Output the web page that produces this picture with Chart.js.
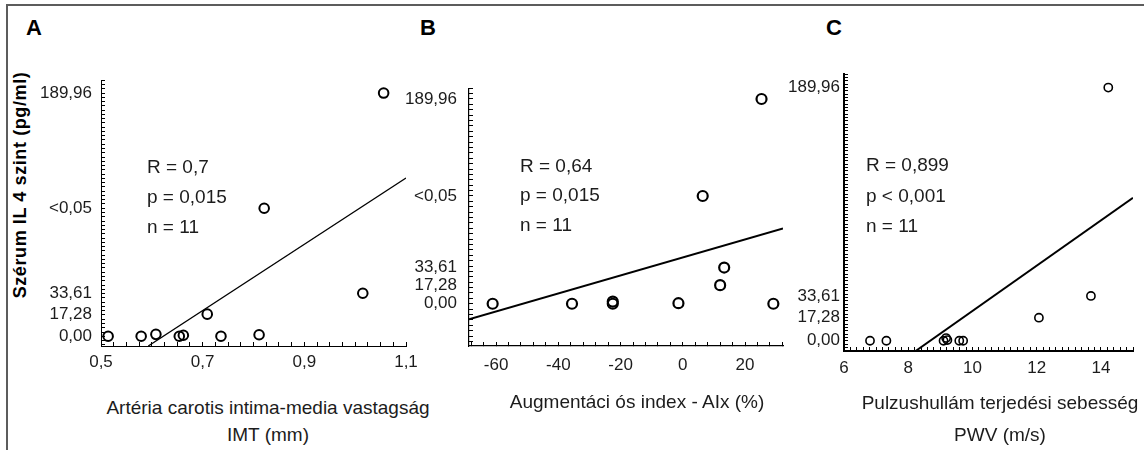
<!DOCTYPE html>
<html>
<head>
<meta charset="utf-8">
<script src="https://cdn.jsdelivr.net/npm/chart.js@4.4.1/dist/chart.umd.min.js"></script>
<style>
  html, body { margin: 0; padding: 0; background: #fff; }
  body { width: 1144px; height: 450px; position: relative; overflow: hidden;
         font-family: "Liberation Sans", Arial, sans-serif; color: #1c1c1c; }
  .frame { position: absolute; left: 6px; top: 4px; right: -4px; bottom: -4px;
           border-top: 2px solid #5c5c5c; border-left: 2px solid #5c5c5c; }
  canvas { position: absolute; }
  .txt { position: absolute; white-space: nowrap; }
  .letter { font-weight: bold; font-size: 22px; transform: translate(-50%, -50%); color: #000; }
  .stat { font-size: 19px; transform: translateY(-50%); }
  .xtitle { font-size: 19px; transform: translate(-50%, -50%); }
  .ytitle { font-weight: bold; font-size: 18px; letter-spacing: 0.6px; color: #000;
            transform: translate(-50%, -50%) rotate(-90deg); }
</style>
</head>
<body>
<div class="frame"></div>

<canvas id="chart-a" width="400" height="329" style="left:31px;top:57px"></canvas>
<canvas id="chart-b" width="409" height="324" style="left:399px;top:62px"></canvas>
<canvas id="chart-c" width="370" height="335" style="left:774px;top:56px"></canvas>

<div class="txt letter" style="left:34px;top:28px">A</div>
<div class="txt letter" style="left:428px;top:28px">B</div>
<div class="txt letter" style="left:834px;top:28px">C</div>

<div class="txt ytitle" style="left:20px;top:185px">Szérum IL 4 szint (pg/ml)</div>

<div class="txt stat" style="left:147px;top:167px">R = 0,7</div>
<div class="txt stat" style="left:147px;top:197px">p = 0,015</div>
<div class="txt stat" style="left:147px;top:227px">n = 11</div>

<div class="txt stat" style="left:520px;top:166px">R = 0,64</div>
<div class="txt stat" style="left:520px;top:195px">p = 0,015</div>
<div class="txt stat" style="left:520px;top:225px">n = 11</div>

<div class="txt stat" style="left:866px;top:165px">R = 0,899</div>
<div class="txt stat" style="left:866px;top:196px">p &lt; 0,001</div>
<div class="txt stat" style="left:866px;top:226px">n = 11</div>

<div class="txt xtitle" style="left:268px;top:408px">Artéria carotis intima-media vastagság</div>
<div class="txt xtitle" style="left:268px;top:435px">IMT (mm)</div>
<div class="txt xtitle" style="left:637px;top:402px">Augmentáci ós index - AIx (%)</div>
<div class="txt xtitle" style="left:1000px;top:403px">Pulzushullám terjedési sebesség</div>
<div class="txt xtitle" style="left:1000px;top:435px">PWV (m/s)</div>

<script>
// panel A: IMT
const imtX = [0.514, 0.579, 0.608, 0.654, 0.662, 0.709, 0.736, 0.811, 0.821, 1.015, 1.056];
const imtY = [0, 0, 1.5, 0, 0.8, 17.28, 0, 1.2, 100, 33.61, 189.96];
const imtFitX = [0.593, 1.1];
const imtFitY = [-7.6, 123.6];
const imtTicks = [0.5, 0.7, 0.9, 1.1];

// panel B: AIx
const aixX = [-61.1, -35.6, -22.5, -22.5, -1.4, 6.4, 12.0, 13.3, 25.3, 29.1];
const aixY = [0, 0, 2, 0, 0.5, 100, 17.28, 33.61, 189.96, 0];
const aixFitX = [-68.7, 32.2];
const aixFitY = [-14.5, 69.8];
const aixTicks = [-60, -40, -20, 0, 20];

// panel C: PWV
const pwvX = [6.81, 7.32, 9.1, 9.18, 9.22, 9.59, 9.71, 12.07, 13.69, 14.23];
const pwvY = [0, 0, 0, 2, 0.5, 0, 0, 17.28, 33.61, 189.96];
const pwvFitX = [8.23, 15];
const pwvFitY = [-7.7, 107.2];
const pwvTicks = [6, 8, 10, 12, 14];

// y axis labels (shared)
const yTickValues = [0, 17.28, 33.61, 100, 189.96];
const yTickLabels = ["0,00", "17,28", "33,61", "<0,05", "189,96"];

const tickFont = { family: "'Liberation Sans', Arial, sans-serif", size: 17 };
const textColor = "#1c1c1c";

function markTicks(min, max, step, labelled) {
  const ticks = [];
  for (let i = Math.ceil(min / step - 1e-9); i * step <= max + 1e-9; i++) {
    ticks.push({ value: i * step, mark: true });
  }
  labelled.forEach((v) => {
    if (!ticks.some((t) => Math.abs(t.value - v) < 1e-6)) ticks.push({ value: v, mark: false });
  });
  return ticks.sort((a, b) => a.value - b.value);
}

function labelFor(values, labels) {
  return (value) => {
    const i = values.findIndex((v) => Math.abs(v - value) < 1e-6);
    return i < 0 ? "" : labels[i];
  };
}

function axis(o) {
  return {
    type: "linear",
    position: o.position,
    min: o.min,
    max: o.max,
    afterBuildTicks: (s) => { s.ticks = markTicks(o.min, o.max, o.step, o.values); },
    afterFit: o.fit,
    ticks: {
      autoSkip: false,
      maxRotation: 0,
      padding: o.pad,
      color: textColor,
      font: tickFont,
      callback: labelFor(o.values, o.labels),
    },
    grid: {
      drawOnChartArea: false,
      drawTicks: true,
      tickLength: -4,
      tickWidth: 1,
      tickColor: (ctx) => (ctx.tick && ctx.tick.mark ? "#000" : "rgba(0,0,0,0)"),
    },
    border: { display: true, color: "#000", width: o.border },
  };
}

function panel(id, p) {
  const pts = p.x.map((x, i) => ({ x, y: p.y[i] }));
  const fit = p.fitX.map((x, i) => ({ x, y: p.fitY[i] }));
  new Chart(document.getElementById(id), {
    type: "scatter",
    data: {
      datasets: [
        {
          data: pts,
          pointStyle: "circle",
          pointRadius: p.r,
          pointBorderWidth: p.bw,
          pointBorderColor: "#000",
          pointBackgroundColor: "rgba(0,0,0,0)",
        },
        {
          data: fit,
          showLine: true,
          borderColor: "#000",
          borderWidth: p.lw,
          pointRadius: 0,
        },
      ],
    },
    options: {
      responsive: false,
      animation: false,
      events: [],
      layout: { padding: { left: 0, top: p.top, right: p.right, bottom: 0 } },
      plugins: { legend: { display: false }, tooltip: { enabled: false } },
      scales: {
        x: axis({
          position: "bottom", min: p.xMin, max: p.xMax, step: p.xStep,
          values: p.xTicks, labels: p.xTicks.map((v) => String(v).replace(".", ",")),
          pad: p.xPad, border: p.axisW, fit: (s) => { s.height = 40; },
        }),
        y: axis({
          position: "left", min: p.yMin, max: 200, step: p.yStep,
          values: p.yValues, labels: p.yLabels,
          pad: p.yPad, border: p.axisW, fit: (s) => { s.width = 70; },
        }),
      },
    },
  });
}

panel("chart-a", {
  x: imtX, y: imtY, fitX: imtFitX, fitY: imtFitY,
  xMin: 0.5, xMax: 1.1, xStep: 0.025, xTicks: imtTicks,
  yMin: -7.6, yStep: 10 / 3, yValues: yTickValues, yLabels: yTickLabels,
  top: 15, right: 25, xPad: 10, yPad: 13, axisW: 1, r: 4.8, bw: 2, lw: 1.3,
});

panel("chart-b", {
  x: aixX, y: aixY, fitX: aixFitX, fitY: aixFitY,
  xMin: -68.7, xMax: 32.2, xStep: 4, xTicks: aixTicks,
  yMin: -39.2, yStep: 5, yValues: yTickValues, yLabels: yTickLabels,
  top: 15, right: 25, xPad: 13, yPad: 16, axisW: 1.2, r: 5, bw: 2.2, lw: 2,
});

panel("chart-c", {
  x: pwvX, y: pwvY, fitX: pwvFitX, fitY: pwvFitY,
  xMin: 6, xMax: 15, xStep: 0.2, xTicks: pwvTicks,
  yMin: -7.7, yStep: 2.5,
  yValues: yTickValues.filter((v) => v !== 100),
  yLabels: yTickLabels.filter((l) => l !== "<0,05"),
  top: 15, right: 9, xPad: 11, yPad: 8, axisW: 2, r: 4.1, bw: 1.6, lw: 2,
});
</script>
</body>
</html>
